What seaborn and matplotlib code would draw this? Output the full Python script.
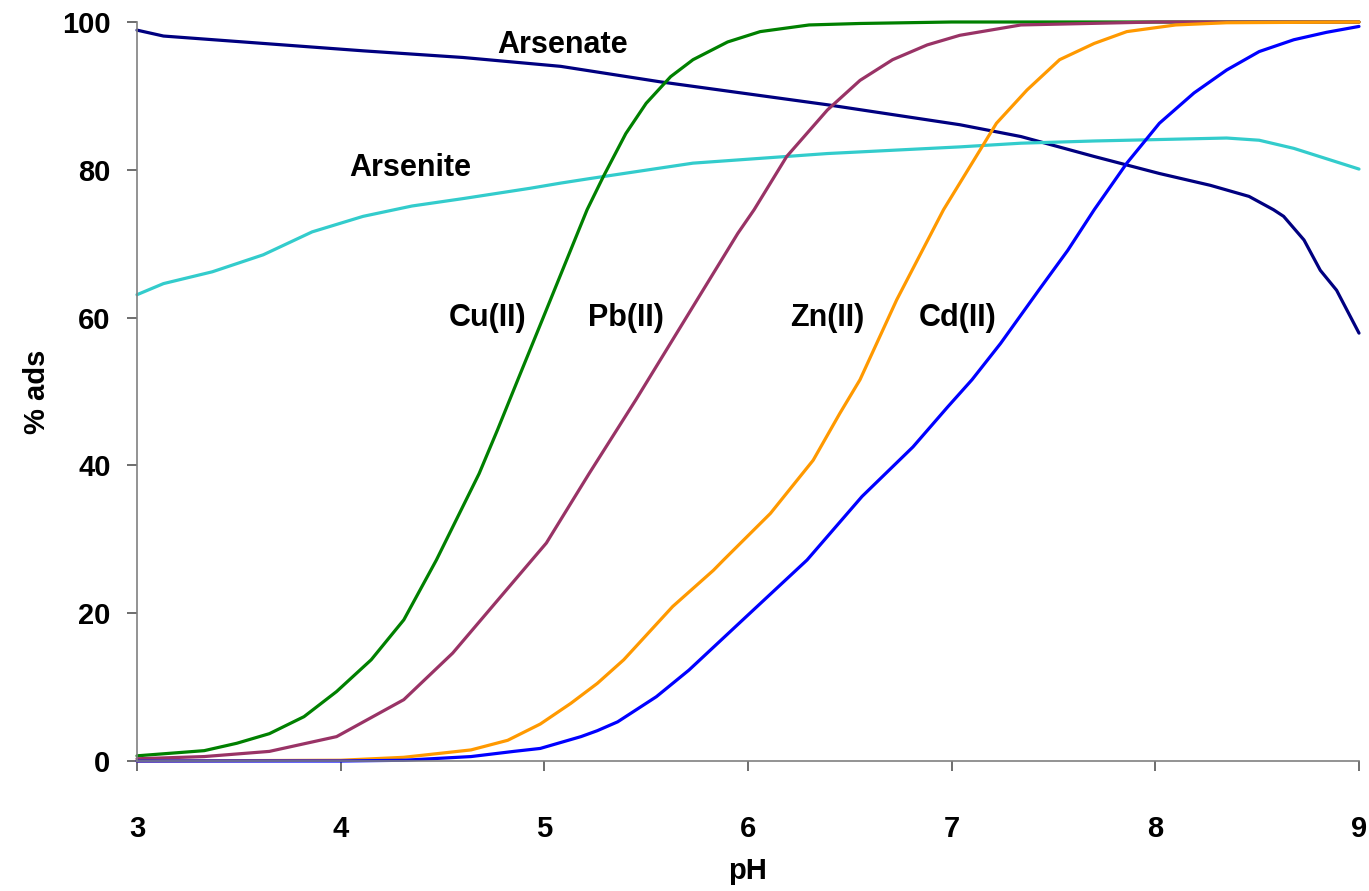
import numpy as np
import pandas as pd
import matplotlib
matplotlib.use("Agg")
import matplotlib.pyplot as plt
import seaborn as sns

# ---- data ----
cu_ph = [3.0, 3.33, 3.49, 3.65, 3.82, 3.98, 4.15, 4.31, 4.47, 4.68, 4.77, 4.87, 4.99, 5.17, 5.21, 5.29,
         5.40, 5.50, 5.62, 5.73, 5.90, 6.06, 6.30, 6.55, 7.0, 8.0, 9.0]
cu_ads = [0.7, 1.4, 2.4, 3.7, 6.0, 9.4, 13.7, 19.1, 27.2, 38.9, 44.8, 51.6, 59.7, 71.9, 74.6, 79.1,
          84.9, 89.0, 92.6, 94.9, 97.3, 98.7, 99.6, 99.8, 100, 100, 100]

pb_ph = [3.0, 3.33, 3.65, 3.98, 4.31, 4.55, 4.80, 5.01, 5.22, 5.45, 5.71, 5.95, 6.03, 6.19,
         6.39, 6.55, 6.71, 6.88, 7.04, 7.34, 8.0, 9.0]
pb_ads = [0.3, 0.6, 1.3, 3.3, 8.3, 14.6, 22.7, 29.5, 38.9, 48.9, 60.6, 71.4, 74.6, 81.8,
          88.1, 92.1, 94.9, 96.9, 98.2, 99.6, 100, 100]

zn_ph = [3.0, 4.0, 4.31, 4.64, 4.82, 4.98, 5.13, 5.26, 5.39, 5.63, 5.83, 5.88, 6.11, 6.32,
         6.45, 6.55, 6.73, 6.96, 7.04, 7.16, 7.22, 7.37, 7.53, 7.70, 7.86, 8.10, 8.35, 9.0]
zn_ads = [0.0, 0.1, 0.5, 1.5, 2.8, 5.0, 7.8, 10.5, 13.7, 20.9, 25.8, 27.2, 33.5, 40.7,
          47.0, 51.6, 62.4, 74.6, 78.2, 83.6, 86.3, 90.8, 94.9, 97.1, 98.7, 99.6, 99.9, 100]

cd_ph = [3.0, 4.0, 4.31, 4.64, 4.85, 4.98, 5.18, 5.26, 5.36, 5.55, 5.71, 5.99, 6.29, 6.56, 6.81,
         6.98, 7.1, 7.24, 7.43, 7.57, 7.70, 7.86, 8.02, 8.19, 8.35, 8.51, 8.68, 8.84, 9.0]
cd_ads = [0.0, 0.0, 0.1, 0.6, 1.3, 1.7, 3.3, 4.1, 5.3, 8.7, 12.3, 19.5, 27.2, 35.8, 42.5,
          47.9, 51.6, 56.5, 63.8, 69.1, 74.6, 80.9, 86.3, 90.4, 93.5, 96.0, 97.6, 98.6, 99.4]

arsenate_ph = [3.0, 3.13, 3.62, 4.11, 4.6, 5.08, 5.57, 6.39, 7.04, 7.34, 7.70, 8.02, 8.27, 8.46,
               8.58, 8.63, 8.73, 8.81, 8.89, 9.0]
arsenate_ads = [98.9, 98.1, 97.1, 96.1, 95.2, 94.0, 91.9, 88.8, 86.1, 84.5, 81.8, 79.5, 77.9, 76.4,
                74.6, 73.7, 70.5, 66.4, 63.7, 57.9]

arsenite_ph = [3.0, 3.13, 3.37, 3.62, 3.86, 4.11, 4.35, 4.6, 4.93, 5.08, 5.22, 5.73, 6.39, 7.04, 7.34,
               7.70, 8.35, 8.51, 8.68, 8.84, 9.0]
arsenite_ads = [63.1, 64.6, 66.2, 68.5, 71.6, 73.7, 75.1, 76.1, 77.5, 78.2, 78.8, 80.9, 82.2, 83.1, 83.6,
                83.9, 84.3, 84.0, 82.9, 81.5, 80.1]

series_names = ["Arsenate", "Arsenite", "Cu(II)", "Pb(II)", "Zn(II)", "Cd(II)"]
series_colors = ["#000080", "#33CCCC", "#008000", "#993366", "#FF9900", "#0000FF"]

x_ticks = [3, 4, 5, 6, 7, 8, 9]
y_ticks = [0, 20, 40, 60, 80, 100]

# label positions (pH, %ads)
label_pos = {
    "Arsenate": (5.09, 96.9),
    "Arsenite": (4.34, 80.2),
    "Cu(II)": (4.72, 59.9),
    "Pb(II)": (5.40, 59.9),
    "Zn(II)": (6.39, 59.9),
    "Cd(II)": (7.03, 59.9),
}

frames = []
for name, ph, ads in [
    ("Arsenate", arsenate_ph, arsenate_ads),
    ("Arsenite", arsenite_ph, arsenite_ads),
    ("Cu(II)", cu_ph, cu_ads),
    ("Pb(II)", pb_ph, pb_ads),
    ("Zn(II)", zn_ph, zn_ads),
    ("Cd(II)", cd_ph, cd_ads),
]:
    frames.append(pd.DataFrame({"series": name, "pH": ph, "ads": ads}))
df = pd.concat(frames, ignore_index=True)

sns.set_style("white")
plt.rcParams["font.family"] = ["Liberation Sans", "DejaVu Sans"]

fig = plt.figure(figsize=(13.69, 8.91), dpi=100)
ax = fig.add_axes([137 / 1369, (891 - 761) / 891, (1359 - 137) / 1369, (761 - 22) / 891])

sns.lineplot(data=df, x="pH", y="ads", hue="series", hue_order=series_names,
             palette=dict(zip(series_names, series_colors)), sort=False,
             estimator=None, legend=False, linewidth=2.3, ax=ax)
for ln in ax.lines:
    ln.set_clip_on(False)
    ln.set_solid_joinstyle("round")

for name in series_names:
    xp, yp = label_pos[name]
    ax.text(xp, yp, name, ha="center", va="center", fontsize=22,
            fontweight="bold", color="black")

ax.set_xlim(3, 9)
ax.set_ylim(0, 100)
ax.set_xticks(x_ticks)
ax.set_yticks(y_ticks)
ax.set_xticklabels([str(t) for t in x_ticks])
ax.set_yticklabels([str(t) for t in y_ticks])

for s in ["top", "right"]:
    ax.spines[s].set_visible(False)
for s in ["left", "bottom"]:
    ax.spines[s].set_color("#808080")
    ax.spines[s].set_linewidth(1.2)

ax.tick_params(axis="both", which="major", bottom=True, left=True, direction="out",
               length=7, width=1.2, color="#555555", labelsize=21, labelcolor="black")
ax.tick_params(axis="x", pad=32)
ax.tick_params(axis="y", pad=12)
for lab in ax.get_xticklabels() + ax.get_yticklabels():
    lab.set_fontweight("bold")

ax.set_xlabel("pH", fontsize=21, fontweight="bold", labelpad=10, color="black")
ax.set_ylabel("% ads", fontsize=21, fontweight="bold", labelpad=8, color="black")

fig.savefig("out.png", dpi=100)
